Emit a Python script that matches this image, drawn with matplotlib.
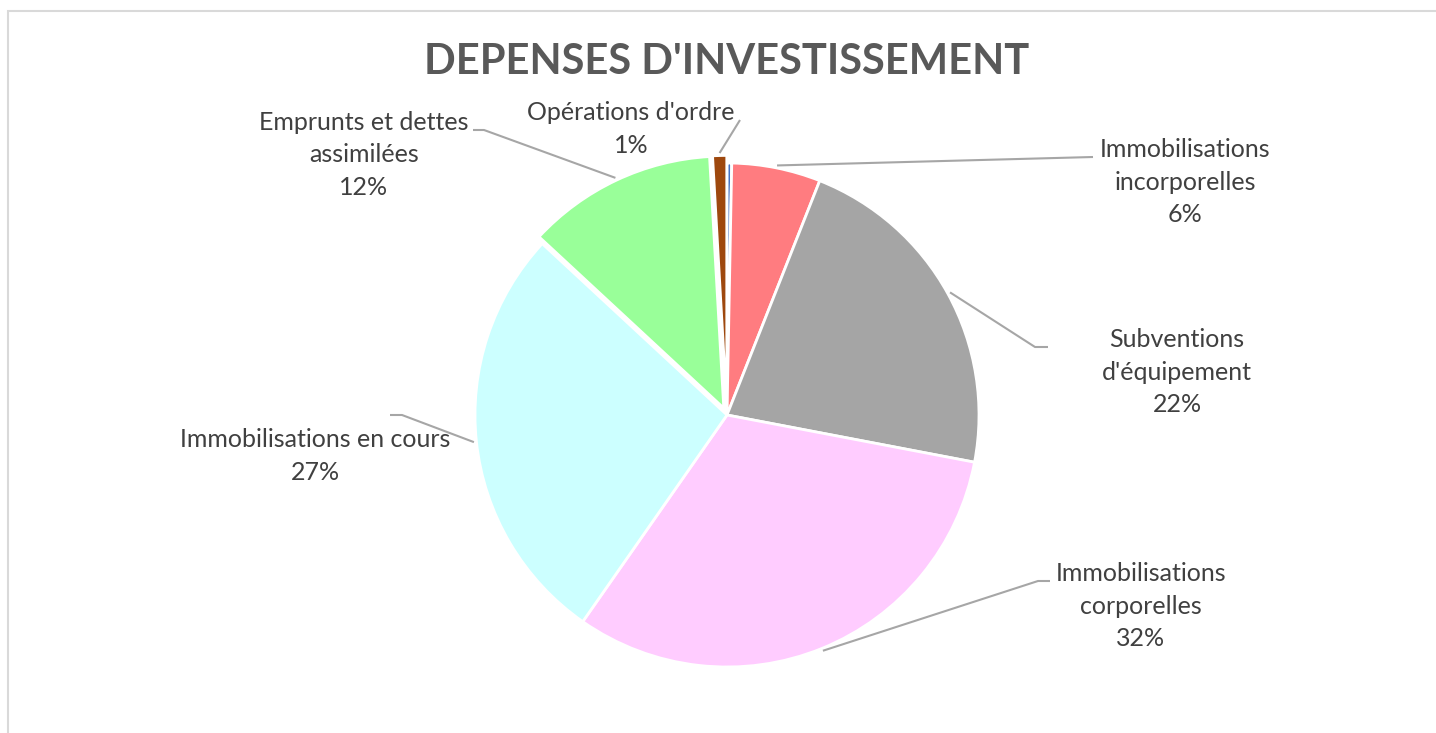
import matplotlib.pyplot as plt
import matplotlib.patches as mpatches
import numpy as np

# données (en %)
postes = ["", "Immobilisations\nincorporelles", "Subventions\nd'équipement",
          "Immobilisations\ncorporelles", "Immobilisations en cours",
          "Emprunts et dettes\nassimilées", "Opérations d'ordre"]
parts = [0.3, 5.7, 22.0, 31.7, 27.2, 12.2, 0.9]
couleurs = ["#4472C4", "#FF7C80", "#A5A5A5", "#FFCCFF", "#CCFFFF", "#99FF99", "#9E480E"]
ecarts = [0, 0, 0, 0, 0, 0.03, 0.03]

W, H = 1436, 733
cx, cy, R = 727, 415, 252

fig = plt.figure(figsize=(W / 100, H / 100), dpi=100)
ax = fig.add_axes([0, 0, 1, 1])

wedges, _ = ax.pie(parts, colors=couleurs, explode=ecarts, startangle=90,
                   counterclock=False, radius=1,
                   wedgeprops=dict(edgecolor="white", linewidth=2))
ax.set_xlim(-cx / R, (W - cx) / R)
ax.set_ylim(-(H - cy) / R, cy / R)
ax.set_aspect("auto")
ax.axis("off")


def px(x, y):
    return (x - cx) / R, (cy - y) / R


# position des étiquettes (px) : centre du texte, coude de la ligne, extrémité
etiquettes = {
    1: ((1185, 182), None, (1093, 157)),
    2: ((1177, 372), (1035, 347), (1048, 347)),
    3: ((1141, 606), (1038, 581), (1050, 581)),
    4: ((315, 456), (402, 415), (390, 415)),
    5: ((364, 155), (484, 130), (473, 130)),
    6: ((631, 129), None, (740, 120)),
}

gris = "#A6A6A6"
for i, (centre, coude, fin) in etiquettes.items():
    w = wedges[i]
    ang = np.deg2rad((w.theta1 + w.theta2) / 2)
    ox, oy = w.center
    x0, y0 = ox + 1.01 * np.cos(ang), oy + 1.01 * np.sin(ang)
    pts = [(x0, y0)]
    if coude is not None:
        pts.append(px(*coude))
    pts.append(px(*fin))
    xs, ys = zip(*pts)
    ax.plot(xs, ys, color=gris, lw=1.5, solid_capstyle="butt")
    texte = f"{postes[i]}\n{round(parts[i]):.0f}%"
    ax.text(*px(*centre), texte, ha="center", va="center", fontsize=18,
            family="Lato", color="#404040", linespacing=1.5)

fig.text(727 / W, 1 - 62 / H, "DEPENSES D'INVESTISSEMENT", ha="center", va="center",
         fontsize=30, fontweight="bold", family="Lato", color="#595959")

# cadre du graphique
fig.patches.append(mpatches.Rectangle((8 / W, -0.1), 1.2, 1.1 - 11 / H,
                                      transform=fig.transFigure, fill=False,
                                      edgecolor="#D9D9D9", lw=1.5))

fig.savefig("out.png", dpi=100)
